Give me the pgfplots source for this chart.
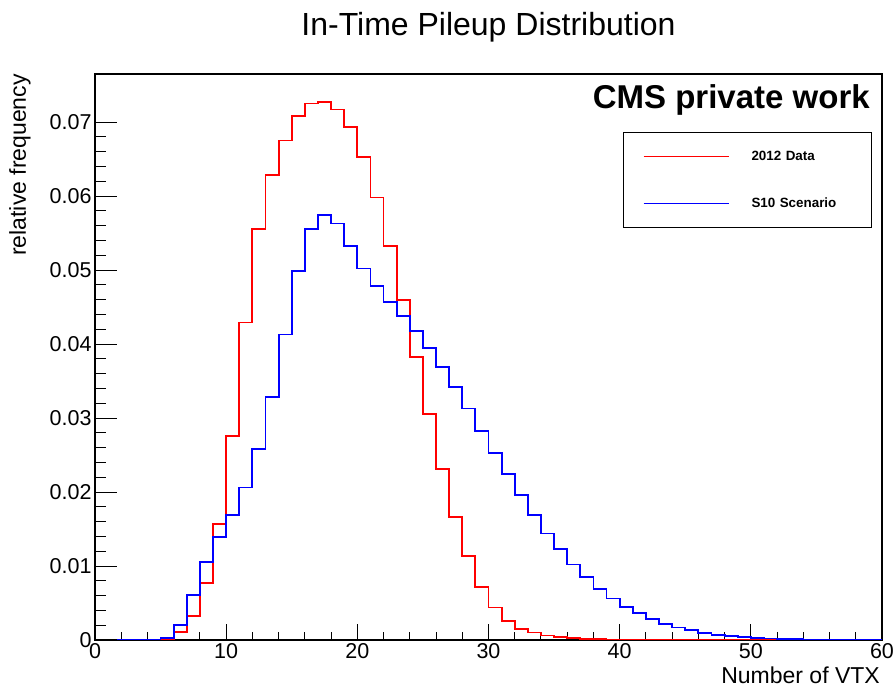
\documentclass[border=0pt]{standalone}
\usepackage{fontspec}
\setmainfont{Liberation Sans}
\usepackage{pgfplots}
\usepackage{pgfplotstable}
\pgfplotsset{compat=1.18}

\pgfplotstableread{
x y
0 0
1 0
2 0
3 0
4 0.00001
5 0.00015
6 0.0011
7 0.0032
8 0.0077
9 0.0157
10 0.0276
11 0.0429
12 0.0555
13 0.0629
14 0.0675
15 0.0708
16 0.0725
17 0.0727
18 0.0717
19 0.0693
20 0.0653
21 0.0598
22 0.0532
23 0.0459
24 0.0383
25 0.0305
26 0.0231
27 0.0166
28 0.0113
29 0.0072
30 0.0044
31 0.0026
32 0.0015
33 0.0010
34 0.0006
35 0.00036
36 0.00023
37 0.00014
38 0.00009
39 0.00006
40 0.00004
41 0.00002
42 0.00001
43 0.00001
44 0
45 0
46 0
47 0
48 0
49 0
50 0
51 0
52 0
53 0
54 0
55 0
56 0
57 0
58 0
59 0
60 0
}\datatable

\pgfplotstableread{
x y
0 0
1 0
2 0
3 0.00001
4 0.00008
5 0.0003
6 0.0020
7 0.0061
8 0.0105
9 0.0139
10 0.0169
11 0.0206
12 0.0258
13 0.0328
14 0.0413
15 0.0499
16 0.0556
17 0.0574
18 0.0563
19 0.0533
20 0.0502
21 0.0478
22 0.0457
23 0.0438
24 0.0418
25 0.0395
26 0.0369
27 0.0342
28 0.0313
29 0.0283
30 0.0253
31 0.0224
32 0.0196
33 0.0169
34 0.0144
35 0.0123
36 0.0102
37 0.0085
38 0.0069
39 0.0056
40 0.0045
41 0.0036
42 0.0028
43 0.0022
44 0.0017
45 0.0013
46 0.00095
47 0.0007
48 0.0005
49 0.0004
50 0.0003
51 0.0002
52 0.00015
53 0.0001
54 0.00007
55 0.00005
56 0.00003
57 0.00002
58 0.00001
59 0.00001
60 0.00001
}\simtable

\begin{document}
\begin{tikzpicture}
\useasboundingbox (-95pt,-48pt) rectangle (800pt,640pt);
\begin{axis}[
  at={(0pt,0pt)}, anchor=south west,
  scale only axis, width=787pt, height=566pt,
  xmin=0, xmax=60, ymin=0, ymax=0.0765,
  axis line style={line width=1.2pt},
  xtick={0,10,20,30,40,50,60}, minor x tick num=4,
  ytick={0,0.01,0.02,0.03,0.04,0.05,0.06,0.07},
  yticklabels={0,0.01,0.02,0.03,0.04,0.05,0.06,0.07},
  scaled y ticks=false,
  minor y tick num=4,
  xtick pos=bottom, ytick pos=left,
  tick align=inside,
  major tick length=16pt, minor tick length=8pt,
  x tick style={line width=1pt, black},
  y tick style={draw=none},
  /pgf/number format/assume math mode=true,
  tick label style={font=\fontsize{21.5}{24}\selectfont},
  title={In-Time Pileup Distribution},
  title style={at={(axis description cs:0.5,1)}, anchor=center, yshift=41pt, inner sep=0pt, font=\fontsize{32}{36}\selectfont},
  xlabel={Number of VTX},
  xlabel style={at={(axis description cs:1,0)}, anchor=east, yshift=-35pt, xshift=-2pt, inner sep=0pt, font=\fontsize{23}{26}\selectfont},
  ylabel={relative frequency},
  ylabel style={at={(axis description cs:-0.0953,1)}, anchor=east, inner sep=0pt, font=\fontsize{23}{26}\selectfont},
  legend image code/.code={\draw[#1, line width=1.2pt] (19pt,0pt) -- (104pt,0pt); \path (0pt,-22.75pt) (126pt,22.75pt);},
  legend cell align=left,
  legend style={at={(rel axis cs:0.9873,0.8975)}, anchor=north east, draw=black, line width=1pt,
    inner sep=0pt, row sep=0pt, column sep=0pt,
    nodes={inner sep=0pt, text width=120pt, font=\bfseries\fontsize{13.4}{15}\selectfont}},
]
\addplot[red, line width=1.8pt, const plot mark left] table[x=x, y=y] {\datatable};
\addlegendentry{2012 Data}
\addplot[blue, line width=1.8pt, const plot mark left] table[x=x, y=y] {\simtable};
\addlegendentry{S10 Scenario}
\node[anchor=east, inner sep=0pt, font=\bfseries\fontsize{33}{36}\selectfont] at (rel axis cs:0.9847,0.954) {CMS private work};
\end{axis}
\begin{axis}[
  at={(0pt,0pt)}, anchor=south west,
  scale only axis, width=787pt, height=566pt,
  xmin=0, xmax=60, ymin=0, ymax=0.0765,
  axis line style={draw=none},
  scaled y ticks=false,
  xtick=\empty,
  ytick={0,0.01,0.02,0.03,0.04,0.05,0.06,0.07},
  yticklabels={},
  minor y tick num=4,
  ytick pos=left, tick align=inside,
  major tick length=22pt, minor tick length=11pt,
  y tick style={line width=1pt, black},
]
\end{axis}
\end{tikzpicture}
\end{document}
